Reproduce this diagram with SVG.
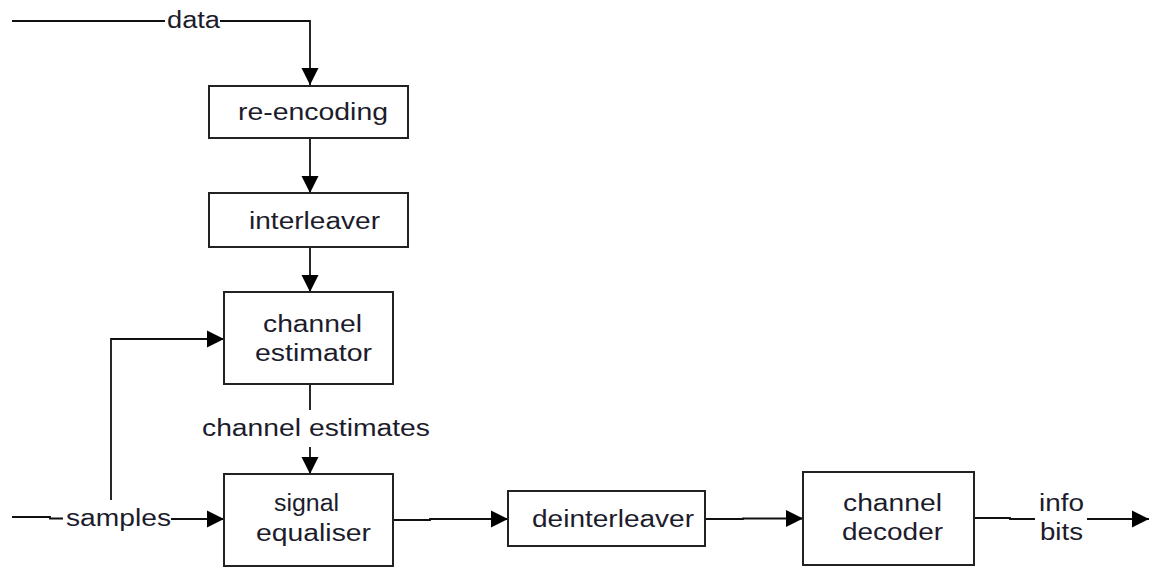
<svg xmlns="http://www.w3.org/2000/svg" width="1150" height="568" viewBox="0 0 1150 568">
<style>
.box{fill:#fff;stroke:#222;stroke-width:2}
.ln{fill:none;stroke:#111;stroke-width:1.8}
.t{font-family:"Liberation Sans",Arial,sans-serif;font-size:23px;fill:#1c1c2c}
</style>
<defs>
<marker id="ah" markerUnits="userSpaceOnUse" markerWidth="18" markerHeight="18" refX="17" refY="9" orient="auto">
<path d="M0,0.5 L17,9 L0,17.5 Z" fill="#000"/>
</marker>
</defs>
<rect width="1150" height="568" fill="#fff"/>
<g id="connectors">
<path class="ln" d="M12,21 H165"/>
<path class="ln" d="M220,21 H310 V85" marker-end="url(#ah)"/>
<path class="ln" d="M310,138 V193" marker-end="url(#ah)"/>
<path class="ln" d="M310,247 V292" marker-end="url(#ah)"/>
<path class="ln" d="M310,384 V410"/>
<path class="ln" d="M310,447 V474" marker-end="url(#ah)"/>
<path class="ln" d="M111,500 V339 H224" marker-end="url(#ah)"/>
<path class="ln" d="M12,517 H50 V518.5 H63"/>
<path class="ln" d="M171,519 H224" marker-end="url(#ah)"/>
<path class="ln" d="M393,520 H430 V519 H508" marker-end="url(#ah)"/>
<path class="ln" d="M705,519 H743 V518.5 H803" marker-end="url(#ah)"/>
<path class="ln" d="M974,518 H1010 V519 H1035"/>
<path class="ln" d="M1087,519 H1149" marker-end="url(#ah)"/>
<text class="t" x="167" y="28" textLength="53" lengthAdjust="spacingAndGlyphs">data</text>
<text class="t" x="202" y="436" textLength="228" lengthAdjust="spacingAndGlyphs">channel estimates</text>
<text class="t" x="66" y="526" textLength="105" lengthAdjust="spacingAndGlyphs">samples</text>
<text class="t" x="1039" y="511" textLength="45" lengthAdjust="spacingAndGlyphs">info</text>
<text class="t" x="1040" y="540" textLength="43" lengthAdjust="spacingAndGlyphs">bits</text>
</g>
<g id="re-encoding">
<rect class="box" x="209" y="86" width="199" height="52"/>
<text class="t" x="238" y="120" textLength="150" lengthAdjust="spacingAndGlyphs">re-encoding</text>
</g>
<g id="interleaver">
<rect class="box" x="209" y="193" width="199" height="54"/>
<text class="t" x="249" y="229" textLength="131" lengthAdjust="spacingAndGlyphs">interleaver</text>
</g>
<g id="channel-estimator">
<rect class="box" x="224" y="292" width="169" height="92"/>
<text class="t" x="263" y="332" textLength="99" lengthAdjust="spacingAndGlyphs">channel</text>
<text class="t" x="255" y="361" textLength="117" lengthAdjust="spacingAndGlyphs">estimator</text>
</g>
<g id="signal-equaliser">
<rect class="box" x="224" y="474" width="169" height="92"/>
<text class="t" x="274" y="511" textLength="65" lengthAdjust="spacingAndGlyphs">signal</text>
<text class="t" x="256" y="541" textLength="115" lengthAdjust="spacingAndGlyphs">equaliser</text>
</g>
<g id="deinterleaver">
<rect class="box" x="508" y="491" width="197" height="55"/>
<text class="t" x="532" y="527" textLength="162" lengthAdjust="spacingAndGlyphs">deinterleaver</text>
</g>
<g id="channel-decoder">
<rect class="box" x="803" y="472" width="171" height="93"/>
<text class="t" x="843" y="511" textLength="99" lengthAdjust="spacingAndGlyphs">channel</text>
<text class="t" x="842" y="540" textLength="101" lengthAdjust="spacingAndGlyphs">decoder</text>
</g>
</svg>
